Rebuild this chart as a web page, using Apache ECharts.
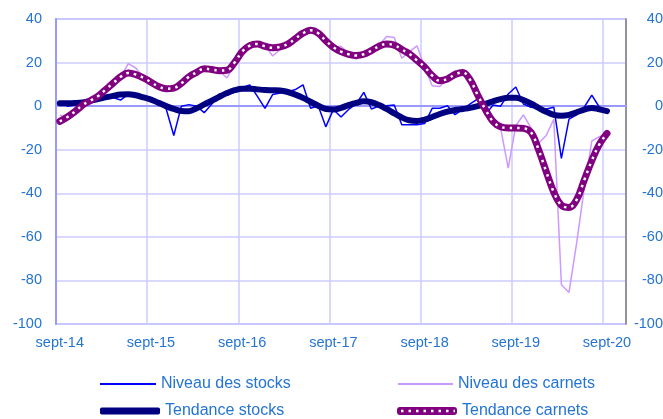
<!DOCTYPE html>
<html>
<head>
<meta charset="utf-8">
<script src="https://cdn.jsdelivr.net/npm/echarts@6/dist/echarts.min.js"></script>
<style>
html, body { margin: 0; padding: 0; background: #fff; }
#chart { width: 663px; height: 419px; }
</style>
</head>
<body>
<div id="chart"></div>
<script>
// mois de sept-14 à nov-20 (les deux derniers sans données)
var nomsMois = ['sept', 'oct', 'nov', 'déc', 'janv', 'févr', 'mars', 'avr', 'mai', 'juin', 'juil', 'août'];
var mois = [];
for (var i = 0; i < 75; i++) {
	mois.push(nomsMois[i % 12] + '-' + (14 + Math.floor((i + 8) / 12)));
}

var niveauStocks = [1.5, 0, 0.5, 1, 1.5, 2.5, 3.5, 4, 2.8, 5.5,
	5, 4, 3, 1.5, -1.3, -13.5, 0, 0.7, 0, -3,
	1, 5.6, 5, 6.5, 8.6, 9.7, 4.5, -1, 5.3, 6,
	6.5, 7.6, 9.8, -1, 0.2, -9.5, -1.5, -5, -1.5, 1,
	6.3, -1.3, 0, 0.2, 0.5, -8.5, -8.5, -8.5, -8, -1,
	-1, 0.2, -3.9, -1.5, 1, 3.3, -4, 0.5, 0, 5.6,
	8.8, 1, -0.5, -1, -1.3, -0.5, -24, -6, -4, -0.5,
	5.1, -0.5, -2];

var niveauCarnets = [-4, -5.5, -2, 0, 3, 4, 7, 11, 13, 19.5,
	17.5, 13, 10.5, 9, 8, 8.5, 11, 14, 16, 17,
	16.5, 16, 13, 19, 25, 28, 28.5, 28, 23, 26,
	28, 30.5, 33.5, 36.2, 34, 29.5, 26.5, 27.5, 24, 21.6,
	24, 26, 28, 32, 31.5, 22, 25, 27.7, 18, 9.4,
	9, 12.5, 16.3, 15, 12, 4, -3, -8, -10, -28.5,
	-9, -4, -10, -17, -13.5, -6, -82, -85.5, -63, -38,
	-16, -14, -12.5];

var tendanceStocks = [1.3, 1.3, 1.4, 1.7, 2.4, 3.3, 4, 4.7, 5.3, 5.5,
	5, 4, 3, 1.5, 0, -1.3, -2.2, -2.3, -1, 0.8,
	2.5, 4.3, 6, 7.3, 8, 8, 7.7, 7.4, 7.3, 7.2,
	6.5, 5.3, 3.8, 2, 0.2, -1.3, -1.5, -0.8, 0.5, 1.5,
	2.2, 1.8, 0.5, -1.3, -3.3, -5.2, -6.5, -6.8, -6.2, -5,
	-3.6, -2.5, -1.8, -1.3, -0.8, 0, 1, 2.2, 3.2, 3.8,
	3.8, 2.8, 1.2, -0.8, -2.6, -4, -4.4, -4, -2.8, -1.6,
	-0.8, -1.5, -2.3];

var tendanceCarnets = [-7, -5, -2.5, 0.5, 2.5, 4.5, 7.5, 10.5, 13.5, 15.2,
	14.5, 13, 11, 9, 8, 8.3, 10.5, 13.5, 15.5, 17.2,
	16.8, 16.3, 16.5, 20, 25, 27.8, 28.5, 27.5, 26.8, 27.2,
	28.5, 31, 33.5, 34.8, 33.5, 30, 27, 25, 23.8, 23.2,
	23.8, 25.5, 27.5, 28.5, 28, 26, 24, 21, 18, 14,
	11.7, 12.5, 14.5, 15.5, 12, 5, -1.5, -7, -9.5, -10,
	-10, -10.2, -12, -20, -30, -39.5, -45.5, -46.5, -43, -34,
	-25, -17.5, -12.5];

var couleurTexte = '#2474d4';
var police = 'Liberation Sans, Arial, sans-serif';

// icône de légende : trait violet épais avec pointillés blancs
var iconeCarnets = 'image://data:image/svg+xml;charset=utf-8,' + encodeURIComponent(
	"<svg xmlns='http://www.w3.org/2000/svg' width='60' height='8'>" +
	"<rect x='0' y='0' width='60' height='8' rx='3' fill='#800080'/>" +
	"<line x1='4' y1='4' x2='58' y2='4' stroke='#ffffff' stroke-width='2.5' stroke-dasharray='2.5 5'/>" +
	"</svg>");

function legende(nom, left, top, largeur, hauteur, icon, couleur) {
	return {
		left: left,
		top: top,
		padding: 0,
		itemWidth: largeur,
		itemHeight: hauteur,
		data: [{ name: nom, icon: icon, itemStyle: couleur ? { color: couleur } : undefined }],
		textStyle: { color: couleurTexte, fontSize: 16, fontFamily: police },
		selectedMode: false
	};
}

var chart = echarts.init(document.getElementById('chart'));

var option = {
	animation: false,
	grid: {
		left: 56,
		right: 37,
		top: 19,
		bottom: 95,
		containLabel: false,
		outerBoundsMode: 'none',
		show: true,
		borderColor: '#a8a8ff',
		borderWidth: 1.5
	},
	legend: [
		legende('Niveau des stocks', 100, 376, 56, 2, 'rect', '#0000ff'),
		legende('Niveau des carnets', 398, 376, 55, 2, 'rect', '#cc99ff'),
		legende('Tendance stocks', 100, 403, 60, 7, 'roundRect', '#000080'),
		legende('Tendance carnets', 397, 403, 60, 8, iconeCarnets)
	],
	xAxis: {
		type: 'category',
		data: mois,
		boundaryGap: true,
		axisLine: { show: true, lineStyle: { color: '#9999ff', width: 2 } },
		axisTick: { show: false, interval: 11 },
		axisLabel: {
			interval: 11,
			color: couleurTexte,
			fontSize: 14.5,
			fontFamily: police,
			margin: 11
		},
		splitLine: {
			show: true,
			interval: 11,
			lineStyle: { color: '#ccccff', width: 1.5 }
		}
	},
	yAxis: [{
		type: 'value',
		min: -100,
		max: 40,
		interval: 20,
		axisLine: { show: true, lineStyle: { color: '#9999ff', width: 2 } },
		axisTick: { show: false },
		axisLabel: { color: couleurTexte, fontSize: 14.5, fontFamily: police, margin: 14 },
		splitLine: { show: true, lineStyle: { color: '#ccccff', width: 1.5 } }
	}, {
		type: 'value',
		position: 'right',
		min: -100,
		max: 40,
		interval: 20,
		axisLine: { show: true, lineStyle: { color: '#808080', width: 1.5 } },
		axisTick: { show: false },
		axisLabel: { color: couleurTexte, fontSize: 14.5, fontFamily: police, margin: 37, align: 'right' },
		splitLine: { show: false }
	}],
	series: [{
		name: 'Niveau des stocks',
		type: 'line',
		data: niveauStocks,
		symbol: 'none',
		lineStyle: { color: '#0000ff', width: 1.5 },
		itemStyle: { color: '#0000ff' },
		z: 2
	}, {
		name: 'Niveau des carnets',
		type: 'line',
		data: niveauCarnets,
		symbol: 'none',
		lineStyle: { color: '#cc99ff', width: 1.5 },
		itemStyle: { color: '#cc99ff' },
		z: 2
	}, {
		name: 'Tendance stocks',
		type: 'line',
		data: tendanceStocks,
		symbol: 'none',
		smooth: 0.4,
		lineStyle: { color: '#000080', width: 6, cap: 'round', join: 'round' },
		itemStyle: { color: '#000080' },
		z: 3
	}, {
		name: 'Tendance carnets',
		type: 'line',
		data: tendanceCarnets,
		symbol: 'none',
		smooth: 0.4,
		lineStyle: { color: '#800080', width: 7, cap: 'round', join: 'round' },
		itemStyle: { color: '#800080' },
		z: 4
	}, {
		// pointillés blancs par-dessus la tendance carnets
		name: 'pointilles',
		type: 'line',
		data: tendanceCarnets,
		symbol: 'none',
		smooth: 0.4,
		silent: true,
		lineStyle: { color: '#ffffff', width: 2.5, type: [2.5, 5], cap: 'butt' },
		z: 5
	}]
};

chart.setOption(option);

window.onresize = function () {
	chart.resize();
};
</script>
</body>
</html>
